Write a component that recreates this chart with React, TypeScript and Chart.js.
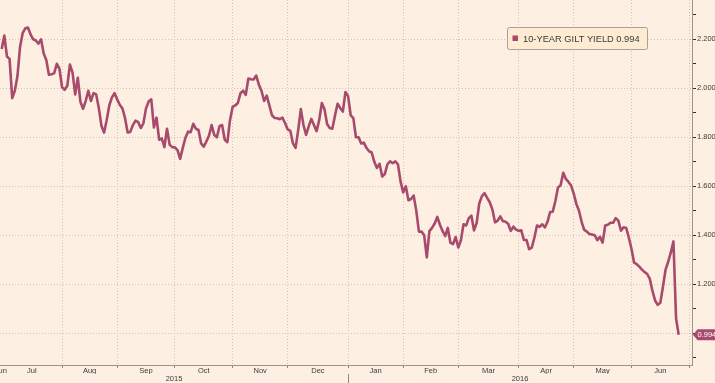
import React, { useEffect, useRef } from "react";
import { Chart, registerables } from "chart.js";

Chart.register(...registerables);

// ---- data -------------------------------------------------------------
const seriesLabel = "10-YEAR GILT YIELD";

// one value per trading day, 1 Jul 2015 (index 0) ... 27 Jun 2016 (index 258)
const yields: number[] = [
  2.16, 2.215, 2.13, 2.12, 1.96, 1.99, 2.05, 2.17, 2.226, 2.245,
  2.248, 2.22, 2.2, 2.195, 2.182, 2.2, 2.142, 2.115, 2.055, 2.057,
  2.062, 2.1, 2.08, 2.005, 1.994, 2.01, 2.097, 2.064, 1.975, 2.043,
  1.945, 1.916, 1.948, 1.99, 1.948, 1.98, 1.975, 1.92, 1.847, 1.819,
  1.87, 1.93, 1.963, 1.98, 1.955, 1.933, 1.918, 1.878, 1.82, 1.822,
  1.85, 1.868, 1.862, 1.838, 1.857, 1.918, 1.946, 1.955, 1.84, 1.88,
  1.79, 1.796, 1.76, 1.835, 1.77, 1.76, 1.759, 1.748, 1.712, 1.757,
  1.797, 1.823, 1.821, 1.855, 1.835, 1.83, 1.775, 1.762, 1.783, 1.807,
  1.85, 1.81, 1.8, 1.845, 1.85, 1.79, 1.78, 1.87, 1.924, 1.93,
  1.94, 1.98, 1.99, 1.973, 2.04, 2.037, 2.036, 2.052, 2.015, 1.99,
  1.948, 1.97, 1.93, 1.89, 1.879, 1.878, 1.874, 1.88, 1.858, 1.832,
  1.826, 1.775, 1.757, 1.83, 1.915, 1.85, 1.81, 1.845, 1.875, 1.85,
  1.825, 1.87, 1.94, 1.915, 1.854, 1.838, 1.835, 1.888, 1.937, 1.92,
  1.905, 1.985, 1.968, 1.89, 1.878, 1.8, 1.8, 1.775, 1.778, 1.757,
  1.743, 1.738, 1.7, 1.675, 1.692, 1.64, 1.65, 1.69, 1.702, 1.694,
  1.702, 1.69, 1.62, 1.575, 1.6, 1.543, 1.548, 1.562, 1.5, 1.415,
  1.415, 1.4, 1.31, 1.417, 1.43, 1.448, 1.475, 1.443, 1.418, 1.397,
  1.43, 1.37, 1.364, 1.393, 1.35, 1.38, 1.445, 1.44, 1.47, 1.48,
  1.42, 1.45, 1.53, 1.56, 1.572, 1.553, 1.535, 1.505, 1.453, 1.46,
  1.477, 1.458, 1.455, 1.447, 1.418, 1.435, 1.423, 1.418, 1.42, 1.381,
  1.381, 1.343, 1.35, 1.39, 1.44, 1.434, 1.445, 1.432, 1.455, 1.495,
  1.496, 1.54, 1.595, 1.604, 1.655, 1.63, 1.618, 1.603, 1.57, 1.528,
  1.5, 1.455, 1.422, 1.415, 1.405, 1.403, 1.4, 1.38, 1.394, 1.37,
  1.44, 1.443, 1.451, 1.451, 1.47, 1.46, 1.419, 1.433, 1.43, 1.39,
  1.345, 1.288, 1.282, 1.272, 1.26, 1.25, 1.242, 1.222, 1.173, 1.134,
  1.116, 1.125, 1.19, 1.26, 1.292, 1.33, 1.375, 1.06, 0.994,
];

// months shown on the axis and the trading-day index of each month's first session
const monthNames = ["Jun", "Jul", "Aug", "Sep", "Oct", "Nov", "Dec", "Jan", "Feb", "Mar", "Apr", "May", "Jun"];
const monthStarts = [-22, 0, 23, 44, 66, 88, 109, 132, 153, 174, 197, 218, 240, 262];
const yearNames = ["2015", "2016"];
const yearStarts = [-130, 132, 393];

// y axis ticks
const yMajorTicks = [1.0, 1.2, 1.4, 1.6, 1.8, 2.0, 2.2];
const yMinorTicks = [0.9, 1.1, 1.3, 1.5, 1.7, 1.9, 2.1, 2.3];

// visible ranges
const X_MIN = -0.65;
const X_MAX = 263.07;
const Y_MIN = 0.8706;
const Y_MAX = 2.3604;

// ---- style --------------------------------------------------------------
const BG = "#fdf0e2";
const LINE = "#a74a6c";
const GRID = "#cfc4b4";
const AXIS = "#9c958a";
const TEXT = "#3a3a3a";
const FONT = "'Liberation Sans', Arial, sans-serif";

const isMajor = (v: number) => yMajorTicks.some((m) => Math.abs(m - v) < 1e-6);

export default function App() {
  const ref = useRef<HTMLCanvasElement | null>(null);

  useEffect(() => {
    if (!ref.current) return;
    Chart.defaults.font.family = FONT;

    const monthLabelPos = monthNames.map((_, i) => {
      const a = Math.max(monthStarts[i], X_MIN);
      const b = Math.min(monthStarts[i + 1], X_MAX);
      return (a + b) / 2;
    });
    const yearLabelPos = yearNames.map((_, i) => {
      const a = Math.max(yearStarts[i], X_MIN);
      const b = Math.min(yearStarts[i + 1], X_MAX);
      return (a + b) / 2;
    });
    const yTicks = [...yMajorTicks, ...yMinorTicks].sort((a, b) => a - b);
    const last = yields[yields.length - 1];

    const overlay = {
      id: "overlay",
      afterDraw(chart: any) {
        const ctx = chart.ctx as CanvasRenderingContext2D;
        const xs = chart.scales.x;
        const ys = chart.scales.y;
        const xy = chart.scales.xy;
        ctx.save();
        // year separators
        ctx.strokeStyle = "#8c867c";
        ctx.lineWidth = 1;
        yearStarts.forEach((v) => {
          if (v <= X_MIN || v >= X_MAX) return;
          const px = Math.round(xs.getPixelForValue(v)) + 0.5;
          ctx.beginPath();
          ctx.moveTo(px, xy.top);
          ctx.lineTo(px, xy.bottom);
          ctx.stroke();
        });
        // last value tag
        const y = ys.getPixelForValue(last);
        const x0 = ys.left;
        ctx.fillStyle = LINE;
        ctx.beginPath();
        ctx.moveTo(x0 + 1, y);
        ctx.lineTo(x0 + 5.5, y - 5.5);
        ctx.lineTo(chart.width, y - 5.5);
        ctx.lineTo(chart.width, y + 5.5);
        ctx.lineTo(x0 + 5.5, y + 5.5);
        ctx.closePath();
        ctx.fill();
        ctx.fillStyle = "#ffffff";
        ctx.font = `7.5px ${FONT}`;
        ctx.textBaseline = "middle";
        ctx.textAlign = "left";
        ctx.fillText(last.toFixed(3), x0 + 5.5, y + 0.5);
        // legend box
        const bx = 507.5, by = 27.5, bw = 140, bh = 22;
        ctx.fillStyle = "#fdebd2";
        ctx.strokeStyle = "#a8a196";
        ctx.beginPath();
        (ctx as any).roundRect ? (ctx as any).roundRect(bx, by, bw, bh, 2) : ctx.rect(bx, by, bw, bh);
        ctx.fill();
        ctx.stroke();
        ctx.fillStyle = LINE;
        ctx.fillRect(bx + 5, by + 8, 5.5, 5.5);
        ctx.fillStyle = TEXT;
        ctx.font = `9.3px ${FONT}`;
        ctx.fillText(`${seriesLabel} ${last.toFixed(3)}`, bx + 15.5, by + bh / 2 + 0.5);
        ctx.restore();
      },
    };

    const chart = new Chart(ref.current, {
      type: "line",
      data: {
        datasets: [
          {
            label: seriesLabel,
            data: yields.map((v, i) => ({ x: i, y: v })),
            borderColor: LINE,
            borderWidth: 2.6,
            pointRadius: 0,
            tension: 0,
            fill: false,
            borderJoinStyle: "round",
          },
        ],
      },
      options: {
        animation: false,
        responsive: false,
        maintainAspectRatio: false,
        layout: { padding: 0 },
        plugins: { legend: { display: false }, tooltip: { enabled: false } },
        scales: {
          x: {
            type: "linear",
            min: X_MIN,
            max: X_MAX,
            position: "bottom",
            weight: 0,
            afterBuildTicks: (s: any) => {
              s.ticks = monthStarts.filter((v) => v > 0 && v < X_MAX).map((v) => ({ value: v }));
            },
            ticks: { display: false },
            grid: { color: GRID, lineWidth: 1, drawTicks: true, tickLength: 3, tickColor: "#8c867c" },
            border: { display: true, color: AXIS, width: 1, dash: [1, 2] },
            afterFit: (s: any) => {
              s.height = 1;
              s.paddingLeft = 0;
              s.paddingRight = 0;
            },
          },
          xm: {
            type: "linear",
            min: X_MIN,
            max: X_MAX,
            position: "bottom",
            weight: 1,
            afterBuildTicks: (s: any) => {
              s.ticks = monthLabelPos.map((v) => ({ value: v }));
            },
            ticks: {
              autoSkip: false,
              minRotation: 0,
              maxRotation: 0,
              padding: 1,
              color: TEXT,
              font: { family: FONT, size: 7.5, lineHeight: 1 },
              callback: (_v: any, i: number) => monthNames[i],
            },
            grid: { display: false, drawTicks: false, tickLength: 0 },
            border: { display: false },
            afterFit: (s: any) => {
              s.height = 8;
              s.paddingLeft = 0;
              s.paddingRight = 0;
            },
          },
          xy: {
            type: "linear",
            min: X_MIN,
            max: X_MAX,
            position: "bottom",
            weight: 2,
            afterBuildTicks: (s: any) => {
              s.ticks = yearLabelPos.map((v) => ({ value: v }));
            },
            ticks: {
              autoSkip: false,
              minRotation: 0,
              maxRotation: 0,
              padding: 1,
              color: TEXT,
              font: { family: FONT, size: 7.5, lineHeight: 1 },
              callback: (_v: any, i: number) => yearNames[i],
            },
            grid: { display: false, drawTicks: false, tickLength: 0 },
            border: { display: false },
            afterFit: (s: any) => {
              s.height = 9;
              s.paddingLeft = 0;
              s.paddingRight = 0;
            },
          },
          y: {
            type: "linear",
            position: "right",
            min: Y_MIN,
            max: Y_MAX,
            afterBuildTicks: (s: any) => {
              s.ticks = yTicks.map((v) => ({ value: v }));
            },
            ticks: {
              padding: 1,
              color: TEXT,
              font: { family: FONT, size: 7.5 },
              callback: (v: any) => (isMajor(Number(v)) ? Number(v).toFixed(3) : ""),
            },
            grid: {
              color: (c: any) => (c.tick && isMajor(c.tick.value) ? GRID : "rgba(0,0,0,0)"),
              lineWidth: 1,
              drawTicks: true,
              tickLength: 4,
              tickColor: "#2f2f2f",
            },
            border: { display: true, color: AXIS, width: 1, dash: [1, 2] },
            afterFit: (s: any) => {
              s.width = 23;
              s.paddingTop = 0;
              s.paddingBottom = 0;
            },
          },
        },
      } as any,
      plugins: [overlay],
    });

    return () => chart.destroy();
  }, []);

  return (
    <div style={{ position: "fixed", left: 0, top: 0, width: 715, height: 383, background: BG }}>
      <canvas ref={ref} width={715} height={383} style={{ display: "block" }} />
    </div>
  );
}
